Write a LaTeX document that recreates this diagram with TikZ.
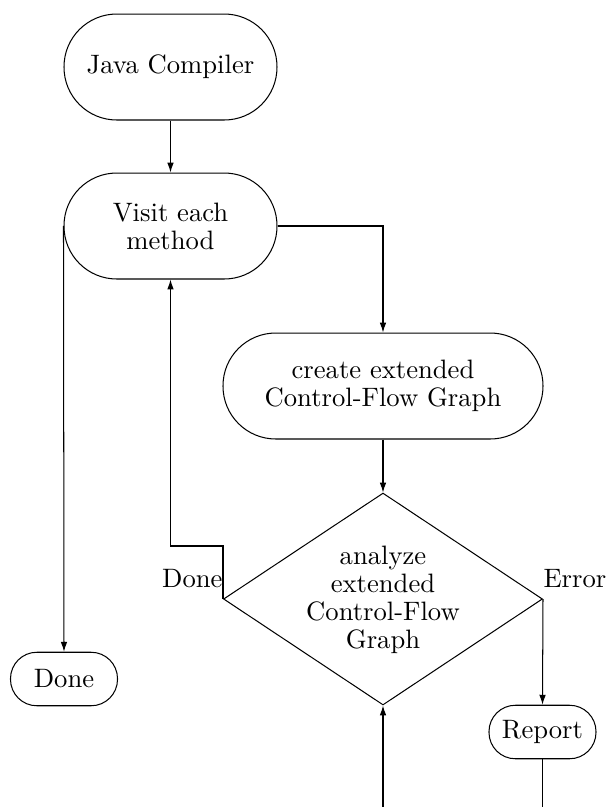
\documentclass[tikz,border=0pt]{standalone}
\usetikzlibrary{shapes.geometric,arrows.meta}
\begin{document}
\begin{tikzpicture}[x=0.390625pt,y=-0.390625pt,>={Latex[length=3.9pt,width=2.6pt]},line width=0.4pt,
  every node/.style={font=\fontsize{10.4pt}{10.9pt}\selectfont},
  stadium/.style={draw,rectangle,align=center,inner sep=2pt},
  bigstad/.style={stadium,minimum height=41.4pt,rounded corners=20.6pt},
  smallstad/.style={stadium,minimum width=41.8pt,minimum height=20.9pt,rounded corners=10.3pt},
  decision/.style={draw,diamond,minimum width=124.6pt,minimum height=82.8pt,inner sep=0pt},
  lbl/.style={inner sep=0pt}]
\clip (0,0) rectangle (605,807);
\node[bigstad,minimum width=83.2pt] (jc) at (170.5,67) {Java Compiler};
\node[bigstad,minimum width=83.2pt] (visit) at (170.5,226) {Visit each\\method};
\node[bigstad,minimum width=125pt] (create) at (383,386) {create extended\\Control-Flow Graph};
\node[decision] (analyze) at (383,599) {};
\node[align=center,inner sep=0pt] (analyzetext) at (383,600) {analyze\\extended\\Control-Flow\\Graph};
\node[smallstad] (done) at (64,679) {Done};
\node[smallstad] (report) at (542.5,732) {Report};
\node[lbl,anchor=base east] (donelbl) at (223,587) {Done};
\node[lbl,anchor=base west] (errlbl) at (543,587) {Error};
\draw[->] (jc) -- (visit);
\draw[->] (visit.east) -| (create.north);
\draw[->] (create) -- (analyze.north);
\draw[->] (analyze.west) -- ++(0,-53) -| (visit.south);
\draw[->] (visit.west) -- (done.north);
\draw[->] (analyze.east) -- (report.north);
\draw[->] (report.south) -- ++(0,90) -| (analyze.south);
\end{tikzpicture}
\end{document}
